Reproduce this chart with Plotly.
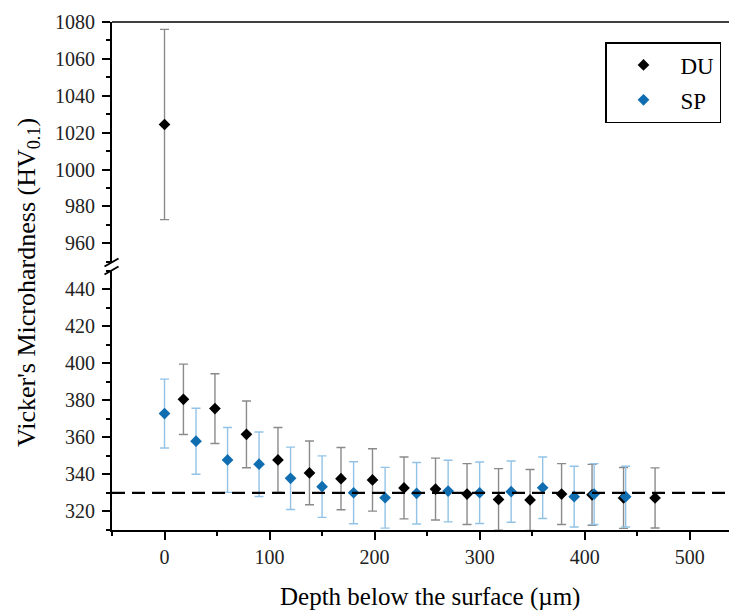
import plotly.graph_objects as go

# ---------------- data ----------------
du_depth = [0, 18, 48, 78, 108, 138, 168, 198, 228, 258, 288, 318, 348, 378, 407, 437, 467]
du_hv = [1024.4, 380.5, 375.5, 361.6, 347.8, 340.8, 337.7, 337.0, 332.7, 332.1, 329.4,
         326.5, 326.2, 329.4, 329.0, 327.3, 327.3]
du_err = [51.6, 19.0, 18.8, 18.0, 17.5, 17.2, 16.8, 16.8, 16.7, 16.7, 16.4,
          16.6, 16.4, 16.4, 16.4, 16.4, 16.2]

sp_depth = [0, 30, 60, 90, 120, 150, 180, 210, 240, 270, 300, 330, 360, 390, 409, 439]
sp_hv = [372.8, 357.9, 347.8, 345.5, 337.9, 333.4, 330.1, 327.4, 329.8, 331.0, 330.1,
         330.7, 332.8, 328.0, 329.4, 328.0]
sp_err = [18.6, 17.8, 17.5, 17.4, 16.8, 16.6, 16.7, 16.4, 16.6, 16.6, 16.6,
          16.5, 16.6, 16.4, 16.4, 16.4]

reference_hv = 330
break_low, break_high = 450, 950
x_range = [-50, 545]
low_range = [310, break_low]
high_range = [break_high, 1080]

FONT = "Times New Roman, Liberation Serif, serif"
BLUE = "#0f6db0"
BLUE_ERR = "#92c3e6"
GRAY_ERR = "#8a8a8a"

# page has an 8px body margin: figure pixel = window pixel - 8
OFF = 8
FIG_W, FIG_H = 737 - OFF, 615 - OFF


def split(xs, ys, es, upper):
    sel = [i for i, v in enumerate(ys) if (v > break_low) == upper]
    return [xs[i] for i in sel], [ys[i] for i in sel], [es[i] for i in sel]


fig = go.Figure()

series = [
    ("DU", du_depth, du_hv, du_err, "black", GRAY_ERR),
    ("SP", sp_depth, sp_hv, sp_err, BLUE, BLUE_ERR),
]
for name, xs, ys, es, col, ecol in series:
    for upper, yax in [(False, "y"), (True, "y2")]:
        sx, sy, se = split(xs, ys, es, upper)
        if not sx:
            continue
        fig.add_trace(go.Scatter(
            x=sx, y=sy, mode="markers", name=name, yaxis=yax,
            legendgroup=name, showlegend=not upper,
            marker=dict(symbol="diamond", size=9, color=col),
            error_y=dict(type="data", array=se, color=ecol, thickness=1.4, width=4.5),
        ))

# reference line
fig.add_shape(type="line", xref="x domain", yref="y", x0=0, x1=1,
              y0=reference_hv, y1=reference_hv,
              line=dict(color="black", width=2.2, dash="13px,7px"))

# top border line
fig.add_shape(type="line", xref="paper", yref="paper", x0=0, x1=1, y0=1, y1=1,
              line=dict(color="black", width=1.5))

# plot geometry in window pixels
L, R, T, B = 112, 737, 22, 530
W, H = R - L, B - T


def px(xp):
    return (xp - L) / W


def py(yp):
    return (B - yp) / H


for cx in [111.5, 737]:
    for cy in [262.5, 270.5]:
        fig.add_shape(type="line", xref="paper", yref="paper",
                      x0=px(cx - 7), x1=px(cx + 7), y0=py(cy + 4), y1=py(cy - 4),
                      line=dict(color="black", width=2))

tickfont = dict(family=FONT, size=20, color="#222")
axis_common = dict(showline=True, linecolor="black", linewidth=2, ticks="outside",
                   ticklen=8, tickwidth=1.5, tickcolor="black", showgrid=False,
                   zeroline=False, tickfont=tickfont)
minor = dict(ticklen=4, tickwidth=1.5, tickcolor="black", ticks="outside")

fig.update_layout(
    width=FIG_W, height=FIG_H,
    margin=dict(l=L - OFF, r=(737 - OFF) - (R - OFF), t=T - OFF, b=FIG_H - (B - OFF), pad=0),
    paper_bgcolor="white", plot_bgcolor="white",
    font=dict(family=FONT, color="black"),
    xaxis=dict(range=x_range, dtick=100, tick0=0, minor=dict(dtick=50, **minor),
               ticklabelstandoff=0, **axis_common),
    yaxis=dict(range=low_range, domain=[0, py(270.5)], dtick=20, tick0=0,
               minor=dict(dtick=10, **minor), ticklabelstandoff=3, **axis_common),
    yaxis2=dict(range=high_range, domain=[py(261.7), 1], dtick=20, tick0=0, anchor="x",
                minor=dict(dtick=10, **minor), ticklabelstandoff=3, **axis_common),
    legend=dict(x=px(721), y=py(42), xanchor="right", yanchor="top",
                bordercolor="black", borderwidth=1.5, bgcolor="white",
                font=dict(family=FONT, size=23, color="black"),
                itemwidth=64, tracegroupgap=2, itemsizing="trace"),
    showlegend=True,
)

fig.add_annotation(text="Vicker's Microhardness (HV<sub>0.1</sub>)", textangle=-90,
                   xref="paper", yref="paper", x=px(28), y=py(283),
                   xanchor="center", yanchor="middle",
                   showarrow=False, font=dict(family=FONT, size=26, color="black"))
fig.add_annotation(text="Depth below the surface (µm)",
                   xref="paper", yref="paper", x=px(430), y=py(597),
                   xanchor="center", yanchor="middle",
                   showarrow=False, font=dict(family=FONT, size=25, color="black"))

fig.write_html("out.html")
